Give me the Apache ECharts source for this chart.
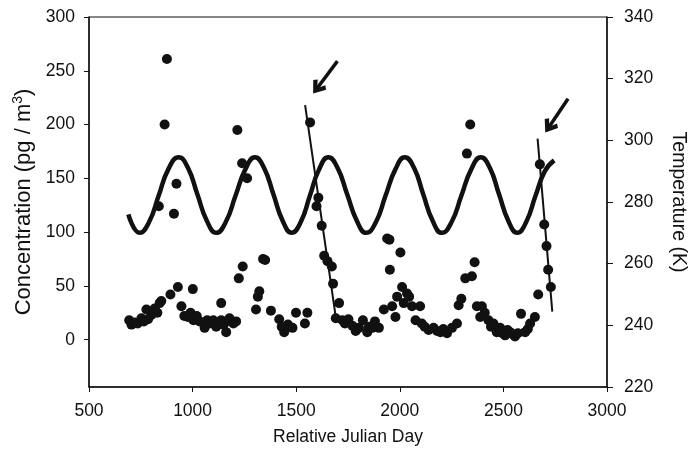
<!DOCTYPE html>
<html>
<head>
<meta charset="utf-8">
<script src="https://cdn.jsdelivr.net/npm/echarts@6/dist/echarts.min.js"></script>
<style>
    html, body {margin: 0; padding: 0; background: #fff;}
    #chart {width: 688px; height: 455px;}
</style>
</head>
<body>
<div id="chart"></div>
<script>
    // concentration samples (Relative Julian Day, pg/m3)
    var concDays = [694, 705, 720, 735, 753, 765, 777, 785, 801, 810, 817, 830, 841, 849, 837, 865, 876, 893, 910, 922,
        929, 946, 960, 977, 990, 1001, 1004, 1020, 1034, 1058, 1070, 1082, 1100, 1114, 1138, 1138, 1150, 1162, 1162, 1178,
        1197, 1210, 1216, 1223, 1239, 1242, 1263, 1306, 1315, 1322, 1340, 1350, 1378, 1418, 1430, 1442, 1460, 1482, 1499, 1542,
        1554, 1567, 1598, 1607, 1623, 1635, 1651, 1672, 1678, 1691, 1707, 1723, 1735, 1752, 1771, 1787, 1803, 1822, 1843, 1851,
        1867, 1880, 1899, 1923, 1939, 1950, 1952, 1963, 1979, 1987, 2003, 2011, 2019, 2035, 2045, 2059, 2076, 2098, 2106, 2120,
        2139, 2163, 2180, 2196, 2210, 2228, 2252, 2276, 2284, 2297, 2316, 2324, 2340, 2348, 2361, 2372, 2388, 2396, 2410, 2428,
        2440, 2452, 2468, 2484, 2495, 2508, 2520, 2532, 2545, 2556, 2570, 2585, 2605, 2618, 2629, 2652, 2668, 2676, 2697, 2708,
        2716, 2729];
    var concValues = [18, 14, 16, 15, 20, 17, 28, 19, 23, 26, 29, 25, 34, 36, 124, 200, 261, 42, 117, 145,
        49, 31, 22, 21, 25, 47, 18, 22, 17, 11, 18, 15, 18, 12, 34, 18, 14, 7, 17, 20,
        15, 17, 195, 57, 164, 68, 150, 28, 40, 45, 75, 74, 27, 19, 12, 7, 14, 11, 25, 15,
        25, 202, 124, 132, 106, 78, 73, 68, 52, 20, 34, 18, 15, 19, 13, 8, 11, 18, 7, 12,
        11, 17, 11, 28, 94, 93, 65, 31, 21, 40, 81, 49, 34, 43, 40, 31, 18, 31, 15, 12,
        9, 11, 8, 7, 10, 6, 11, 15, 32, 38, 57, 173, 200, 59, 72, 31, 21, 31, 25, 18,
        12, 15, 7, 11, 6, 4, 9, 7, 5, 3, 6, 24, 7, 10, 15, 21, 42, 163, 107, 87,
        65, 49];

    // temperature curve (K)
    var tempDays = [690, 745, 790, 836, 882, 933, 978, 1023, 1068, 1114, 1160, 1207, 1254, 1301, 1345, 1390, 1434, 1478,
        1522, 1566, 1610, 1655, 1700, 1746, 1792, 1838, 1885, 1931, 1978, 2024, 2069, 2113, 2158, 2203, 2250, 2297,
        2344, 2391, 2435, 2479, 2523, 2567, 2610, 2655, 2700, 2745];
    var tempValues = [276, 270, 273.5, 282, 290.5, 294.5, 291, 282.5, 274, 270, 273.5, 282, 290.5, 294.5, 291, 282.5, 274, 270,
        273.5, 282, 290.5, 294.5, 291, 282.5, 274, 270, 273.5, 282, 290.5, 294.5, 291, 282.5, 274, 270, 273.5, 282,
        290.5, 294.5, 291, 282.5, 274, 270, 273.5, 282, 290, 293.5];

    // steep decline fits
    var fit1Days = [1543, 1691];
    var fit1Conc = [218, 21];
    var fit2Days = [2665, 2736];
    var fit2Conc = [187, 26];

    // arrows (tail -> tip)
    var arrowTails = [[1699, 259], [2812, 224]];
    var arrowTips = [[1602, 234], [2721, 198]];

    var leftTicks = [0, 50, 100, 150, 200, 250, 300];

    var font = 'Liberation Sans';
    var ink = '#111';

    function pairs(xs, ys) {
        return xs.map(function (x, i) {
            return [x, ys[i]];
        });
    }

    var myChart = echarts.init(document.getElementById('chart'));
    var option = {
        animation: false,
        backgroundColor: '#fff',
        textStyle: {fontFamily: font, color: ink},
        grid: {
            left: 89,
            right: 81,
            top: 17,
            bottom: 68,
            containLabel: false,
            outerBoundsMode: 'none',
            show: true,
            borderColor: ink,
            borderWidth: 1
        },
        xAxis: {
            type: 'value',
            min: 500,
            max: 3000,
            interval: 500,
            name: 'Relative Julian Day',
            nameLocation: 'middle',
            nameGap: 41,
            nameTextStyle: {fontSize: 17.5, color: ink, fontFamily: font},
            axisLine: {show: true, onZero: false, lineStyle: {color: ink, width: 1.5}},
            axisTick: {show: true, length: 5, lineStyle: {color: ink}},
            axisLabel: {
                fontSize: 17.5, color: ink, fontFamily: font, margin: 15,
                formatter: function (v) {
                    return String(v);
                }
            },
            splitLine: {show: false}
        },
        yAxis: [
            {
                type: 'value',
                min: -44,
                max: 300,
                position: 'left',
                name: 'Concentration (pg / m{sup|3})',
                nameLocation: 'middle',
                nameGap: 51,
                nameTextStyle: {
                    fontSize: 22, color: ink, fontFamily: font,
                    rich: {sup: {fontSize: 14, fontFamily: font, color: ink, padding: [0, 0, 12, 0]}}
                },
                axisLine: {show: true, onZero: false, lineStyle: {color: ink, width: 1.5}},
                axisTick: {show: true, length: 5, customValues: leftTicks, lineStyle: {color: ink}},
                axisLabel: {fontSize: 17.5, color: ink, fontFamily: font, margin: 14, customValues: leftTicks},
                splitLine: {show: false}
            },
            {
                type: 'value',
                min: 220,
                max: 340,
                interval: 20,
                position: 'right',
                name: 'Temperature (K)',
                nameLocation: 'middle',
                nameRotate: -90,
                nameGap: 61,
                nameTextStyle: {fontSize: 19.5, color: ink, fontFamily: font},
                axisLine: {show: true, onZero: false, lineStyle: {color: ink, width: 1.5}},
                axisTick: {show: true, length: 6, lineStyle: {color: ink}},
                axisLabel: {fontSize: 17.5, color: ink, fontFamily: font, margin: 17},
                splitLine: {show: false}
            }
        ],
        series: [
            {
                name: 'Temperature',
                type: 'line',
                yAxisIndex: 1,
                smooth: 0.5,
                showSymbol: false,
                lineStyle: {color: ink, width: 4.5},
                data: pairs(tempDays, tempValues),
                z: 2
            },
            {
                name: 'Concentration',
                type: 'scatter',
                yAxisIndex: 0,
                symbolSize: 10,
                itemStyle: {color: ink, opacity: 1},
                data: pairs(concDays, concValues),
                z: 3
            },
            {
                name: 'Fit 1',
                type: 'line',
                yAxisIndex: 0,
                showSymbol: false,
                lineStyle: {color: ink, width: 2},
                data: pairs(fit1Days, fit1Conc),
                z: 4
            },
            {
                name: 'Fit 2',
                type: 'line',
                yAxisIndex: 0,
                showSymbol: false,
                lineStyle: {color: ink, width: 2},
                data: pairs(fit2Days, fit2Conc),
                z: 4,
                markLine: {
                    silent: true,
                    symbol: ['none', 'path://M10,0L20,14L16,18L10,9L4,18L0,14Z'],
                    symbolSize: [16, 14],
                    label: {show: false},
                    lineStyle: {color: ink, width: 3.5, type: 'solid'},
                    data: arrowTails.map(function (t, i) {
                        return [{coord: t}, {coord: arrowTips[i]}];
                    })
                }
            }
        ]
    };
    myChart.setOption(option);
</script>
</body>
</html>
